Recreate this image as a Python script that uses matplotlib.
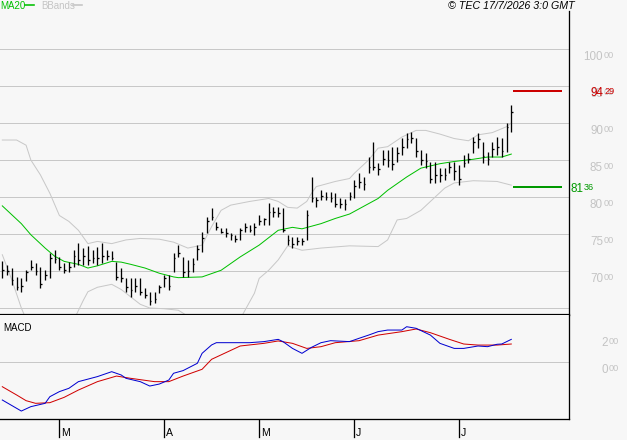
import matplotlib
matplotlib.use("Agg")
import matplotlib.pyplot as plt
import numpy as np

W, H = 627, 440
PX = 72.0 / 100.0  # points per pixel at dpi 100

# ---------------- data ----------------
highs = [71.3,70.8,70.4,69.2,69.0,70.1,71.5,71.1,70.5,70.1,
         72.4,72.8,71.9,71.1,71.2,72.8,73.8,73.1,73.4,72.8,
         73.2,73.8,72.8,72.7,71.2,70.4,69.0,69.0,69.0,69.0,
         67.7,67.2,67.2,68.1,69.5,69.5,72.4,73.5,71.9,71.5,
         71.8,73.5,75.3,77.3,78.5,76.6,75.8,75.8,75.1,74.9,
         75.8,76.5,76.2,76.5,77.6,77.2,79.2,78.6,78.6,78.5,
         74.9,74.6,74.6,74.5,78.2,82.7,80.0,80.9,80.7,80.7,
         80.5,79.9,79.7,80.7,82.3,83.2,82.7,85.4,87.4,84.6,
         86.4,86.4,86.8,86.8,88.0,88.6,88.8,88.0,86.4,85.9,
         84.7,84.7,83.9,83.9,84.7,84.7,84.3,85.7,85.9,88.1,
         88.6,87.4,86.1,87.4,88.1,88.0,90.0,92.4]
lows = [69.0,69.5,68.1,67.4,67.2,68.6,70.1,69.5,67.7,68.8,
        69.1,71.1,70.1,69.7,69.9,70.5,70.8,70.8,70.8,71.1,
        70.8,71.1,71.5,71.5,68.8,68.5,67.2,66.5,67.2,66.8,
        66.4,65.4,65.7,67.0,67.8,67.4,69.9,71.9,69.2,69.2,
        69.9,71.5,72.6,75.1,76.9,75.5,75.1,74.6,74.2,73.9,
        74.2,75.3,75.3,74.9,76.2,76.2,76.2,77.3,77.3,75.3,
        73.5,73.1,73.5,73.5,74.2,79.3,78.6,79.6,79.6,79.3,
        78.6,78.5,78.2,79.6,79.9,81.2,80.9,83.2,83.6,83.0,
        84.3,84.1,83.6,84.7,85.7,86.6,87.3,85.4,84.3,83.9,
        81.9,81.9,82.0,82.3,83.2,82.3,81.6,84.1,84.6,85.9,
        86.6,84.6,84.3,85.4,85.7,85.4,86.1,88.8]
closes = [70.2,70.0,68.8,67.8,68.0,69.8,70.6,70.0,68.2,69.5,
          71.8,71.6,70.5,70.2,70.6,72.0,71.5,72.0,71.5,71.8,
          71.8,72.0,72.0,71.8,69.2,69.0,67.8,67.5,68.0,67.2,
          66.8,66.0,66.2,67.8,69.0,68.0,71.8,72.4,69.8,70.0,
          71.0,73.0,74.5,76.8,77.3,76.0,75.3,75.2,74.8,74.3,
          75.6,76.0,75.6,76.0,76.8,77.0,78.0,78.0,77.8,75.6,
          74.2,73.6,74.0,74.0,77.6,79.8,79.6,80.2,80.0,79.8,
          79.0,79.0,79.0,80.2,81.5,82.0,81.8,84.0,84.0,83.8,
          85.2,85.0,84.5,86.0,86.8,87.8,88.0,86.2,85.0,84.8,
          82.4,83.0,83.0,83.0,84.0,83.5,82.5,84.6,85.2,87.5,
          87.8,85.5,85.2,86.5,86.8,86.2,89.5,91.5]

ma_idx = [0,4,6,9,11,13,16,18,20,23,25,27,30,33,36,37,42,46,50,54,58,61,63,67,70,73,79,81,85,88,92,95,99,102,105,107]
ma_val = [78.8,76.4,74.9,73.1,72.0,71.3,70.9,70.4,70.7,71.3,71.2,70.9,70.4,69.7,69.2,69.1,69.2,70.1,71.9,73.5,75.5,75.9,75.7,76.4,77.1,77.7,79.8,80.9,82.7,83.9,84.5,84.8,85.1,85.4,85.4,85.8]

up_idx = [0,3,5,6,8,10,12,14,16,18,20,23,26,29,33,36,39,42,44,46,48,52,56,58,60,62,64,65,66,70,73,74,77,79,81,84,87,89,92,95,98,100,103,106,107]
up_val = [87.7,87.7,87.0,85.0,83.0,80.5,77.5,76.7,75.5,73.7,74.0,73.7,74.2,74.4,74.3,73.9,73.1,73.5,76.0,78.2,78.9,79.4,79.8,79.4,78.6,78.5,79.4,80.5,81.4,82.1,82.5,83.2,85.0,86.6,86.8,88.1,89.0,89.0,88.5,87.9,87.6,88.4,88.7,89.5,90.0]

lo_idx = [0,2,4,6,10,14,17,18,20,23,25,27,29,31,34,37,40,45,50,53,54,56,58,60,63,67,73,79,81,83,85,88,93,95,99,104,107]
lo_val = [72.2,68.8,65.0,62.0,60.0,62.0,66.0,67.2,67.8,68.2,67.5,66.5,65.5,65.0,64.9,64.7,63.5,62.5,63.5,67.0,69.0,70.1,71.5,73.4,72.8,73.1,73.4,73.3,74.2,76.9,77.1,78.2,81.2,81.9,82.2,82.1,81.6]

macd_idx = [0,4,6,9,10,12,14,16,20,23,25,26,29,31,33,35,36,38,41,42,44,45,48,52,55,58,59,61,63,65,67,69,73,75,77,79,81,84,85,87,90,92,95,97,100,102,104,105,107]
macd_val = [-2.88,-3.71,-3.38,-3.13,-2.63,-2.25,-2.0,-1.50,-1.12,-0.75,-1.0,-1.25,-1.50,-1.83,-1.68,-1.38,-0.87,-0.67,-0.12,0.63,1.26,1.43,1.43,1.43,1.51,1.68,1.51,1.0,0.63,1.08,1.43,1.58,1.51,1.76,2.0,2.26,2.38,2.38,2.63,2.51,2.0,1.38,1.0,1.0,1.18,1.13,1.31,1.33,1.68]
sig_idx = [0,3,5,7,10,13,16,20,24,27,32,35,38,42,44,47,50,55,58,61,64,67,70,75,79,84,87,90,94,97,100,104,107]
sig_val = [-1.88,-2.5,-2.93,-3.13,-3.08,-2.68,-2.13,-1.50,-1.08,-1.25,-1.50,-1.50,-1.08,-0.57,0.18,0.68,1.18,1.38,1.56,1.38,1.0,1.13,1.43,1.58,2.0,2.26,2.46,2.18,1.68,1.33,1.25,1.25,1.33]

resist = 94.29
support = 81.36
price_ticks = [100, 95, 90, 85, 80, 75, 70]
grid_levels = [65, 70, 75, 80, 85, 90, 95, 100]
macd_ticks = [2, 0]
month_idx = [12, 34, 54, 74, 96]
month_lbl = ["M", "A", "M", "J", "J"]

# ---------------- style ----------------
BG = "#f7f7f7"
GRID = "#c8c8c8"
LBL = "#c4c4c4"
FONT = "Liberation Sans"
plt.rcParams["font.family"] = [FONT, "DejaVu Sans"]
BIG, SMALL = 8.4, 6.6

fig = plt.figure(figsize=(W / 100, H / 100), dpi=100, facecolor=BG)

def fx(x):
    return x / W

def fy(y):
    return 1 - y / H

# main axes: x px 0..569, y px 11..315
ax = fig.add_axes([fx(0), fy(315), fx(569), (315 - 11) / H], facecolor=BG)
ax2 = fig.add_axes([fx(0), fy(419), fx(569), (419 - 315) / H], facecolor=BG)

bar_px0, bar_dx = 2.3, 4.757
xl = (-bar_px0 / bar_dx, (569 - bar_px0) / bar_dx)
for a in (ax, ax2):
    a.set_xlim(*xl)
    a.set_xticks([])
    a.set_yticks([])
    for s in a.spines.values():
        s.set_visible(False)

ppx = 7.4  # px per price unit
ax.set_ylim(100 - (315 - 49) / ppx, 100 + (49 - 11) / ppx)
mpx = 13.3
ax2.set_ylim(-(419 - 361.7) / mpx, (361.7 - 315) / mpx)

lw1 = 1.0 * PX
for g in grid_levels:
    ax.axhline(g, color=GRID, lw=lw1, zorder=1)

x = np.arange(len(highs))
ax.plot(up_idx, up_val, color=GRID, lw=lw1, zorder=2)
ax.plot(lo_idx, lo_val, color=GRID, lw=lw1, zorder=2)
ax.plot(ma_idx, ma_val, color="#00c000", lw=lw1, zorder=3)
ax.vlines(x, lows, highs, color="black", lw=1.3 * PX, zorder=4)
ax.hlines(closes, x, x + 0.35, color="black", lw=1.3 * PX, zorder=4)

# resistance / support segments
seg0, seg1 = (513 - bar_px0) / bar_dx, (562 - bar_px0) / bar_dx
ax.plot([seg0, seg1], [resist, resist], color="#cc0000", lw=2 * PX, solid_capstyle="butt", zorder=5)
ax.plot([seg0, seg1], [support, support], color="#009900", lw=2 * PX, solid_capstyle="butt", zorder=5)

# spines
ax.spines["right"].set_visible(True)
ax.spines["right"].set_linewidth(1.3 * PX)
ax.spines["bottom"].set_visible(True)
ax.spines["bottom"].set_linewidth(2.2 * PX)
for s in ("right", "bottom"):
    ax2.spines[s].set_visible(True)
    ax2.spines[s].set_linewidth(1.3 * PX)

# price labels
ytr = ax.get_yaxis_transform()
for p in price_ticks:
    ax.annotate(f"{int(p)}", xy=(1, p), xycoords=ytr, xytext=(34, -2), textcoords="offset pixels",
                ha="right", va="top", fontsize=BIG, color=LBL, annotation_clip=False)
    ax.annotate("00", xy=(1, p), xycoords=ytr, xytext=(35, -2), textcoords="offset pixels",
                ha="left", va="top", fontsize=SMALL, color=LBL, annotation_clip=False)
rs = f"{resist:.2f}".split(".")
ax.annotate(rs[0], xy=(1, resist), xycoords=ytr, xytext=(34, 4), textcoords="offset pixels",
            ha="right", va="top", fontsize=BIG, color="#cc0000", annotation_clip=False)
ax.annotate(rs[1], xy=(1, resist), xycoords=ytr, xytext=(35, 4), textcoords="offset pixels",
            ha="left", va="top", fontsize=SMALL, color="#cc0000", annotation_clip=False)
ss = f"{support:.2f}".split(".")
ax.annotate(ss[0], xy=(1, support), xycoords=ytr, xytext=(1.5, 3.5), textcoords="offset pixels",
            ha="left", va="top", fontsize=BIG, color="#009900", annotation_clip=False)
ax.annotate(ss[1], xy=(1, support), xycoords=ytr, xytext=(14.5, 3.5), textcoords="offset pixels",
            ha="left", va="top", fontsize=SMALL, color="#009900", annotation_clip=False)

# MACD panel
ax2.axhline(0, color=GRID, lw=lw1, zorder=1)
ax2.plot(sig_idx, sig_val, color="#d00000", lw=lw1, zorder=3)
ax2.plot(macd_idx, macd_val, color="#0000d0", lw=lw1, zorder=4)
ytr2 = ax2.get_yaxis_transform()
for v in macd_ticks:
    ax2.annotate(f"{int(v)}", xy=(1, v), xycoords=ytr2, xytext=(39, -2), textcoords="offset pixels",
                 ha="right", va="top", fontsize=BIG, color=LBL, annotation_clip=False)
    ax2.annotate("00", xy=(1, v), xycoords=ytr2, xytext=(40, -2), textcoords="offset pixels",
                 ha="left", va="top", fontsize=SMALL, color=LBL, annotation_clip=False)
ax2.text(3 / 569, 1 - 8 / 104, "MACD", transform=ax2.transAxes, fontsize=7, color="black",
         ha="left", va="top")

# month ticks
xtr = ax2.get_xaxis_transform()
for i, m in zip(month_idx, month_lbl):
    ax2.plot([i, i], [-1 / 104, -18 / 104], color="black", lw=1.3 * PX, transform=xtr, clip_on=False)
    ax2.annotate(m, xy=(i, 0), xycoords=xtr, xytext=(1.5, -19), textcoords="offset pixels",
                 ha="left", va="bottom", fontsize=7.6, color="black", annotation_clip=False)

# header
fig.text(fx(0), fy(1), "MA20", fontsize=7.0, color="#00c000", ha="left", va="top")
fig.lines.append(plt.Line2D([fx(25), fx(34)], [fy(5), fy(5)], color="#00c000", lw=1.6 * PX,
                            transform=fig.transFigure))
fig.text(fx(41), fy(1), "BBands", fontsize=7.0, color=LBL, ha="left", va="top")
fig.lines.append(plt.Line2D([fx(73), fx(82)], [fy(5), fy(5)], color=LBL, lw=1.6 * PX,
                            transform=fig.transFigure))
fig.text(fx(575), fy(1), "\u00a9 TEC 17/7/2026 3:0 GMT", fontsize=7.7, color="black", ha="right", va="top",
         style="italic")

fig.savefig("out.png", dpi=100, facecolor=BG)
